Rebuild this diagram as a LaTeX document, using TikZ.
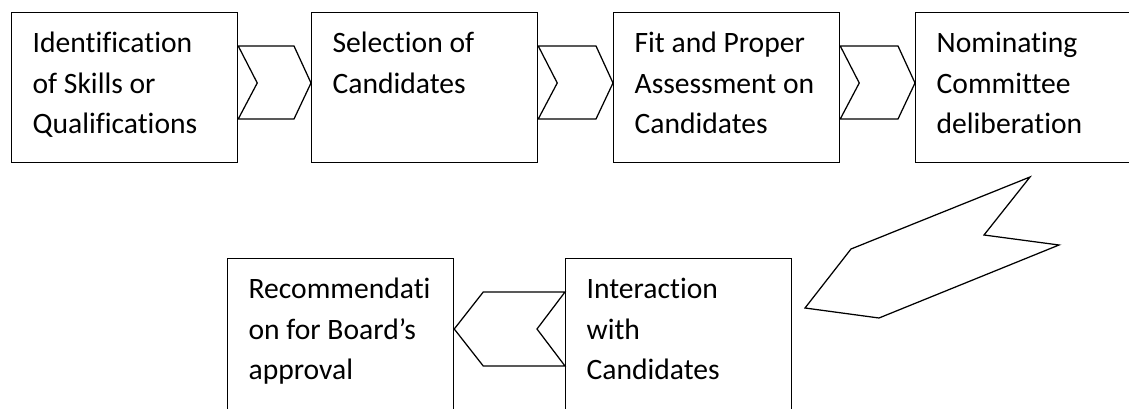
\documentclass[tikz,border=0pt]{standalone}
\usepackage{fontspec}
\setmainfont{Carlito}[Ligatures={NoCommon}]
\usetikzlibrary{calc}
\begin{document}
\begin{tikzpicture}[x=1pt,y=-1pt,line width=1.25pt,
  box/.style={draw,minimum width=226pt,minimum height=150pt,anchor=north west,inner sep=0pt},
  lowbox/.style={box,minimum height=200pt},
  lbl/.style={anchor=north west,align=left,inner sep=0pt,font=\fontsize{29.6}{40.5}\selectfont},
  chev/.style={draw,line join=miter}]
\clip (0,0) rectangle (1129,409);
\fill[white] (0,0) rectangle (1129,409);
% top row
\node[box] (b1) at (11,12) {};
\node[box] (b2) at (311,12) {};
\node[box] (b3) at (613,12) {};
\node[box] (b4) at (915,12) {};
% bottom row
\node[lowbox] (b5) at (227,258) {};
\node[lowbox] (b6) at (565,258) {};
% labels (first baseline 40pt below box top)
\newcommand{\fl}{\rule{0pt}{30pt}}
\node[lbl] (t1) at ($(b1.north west)+(21,10)$) {\fl Identification\\of Skills or\\Qualifications};
\node[lbl] (t2) at ($(b2.north west)+(21,10)$) {\fl Selection of\\Candidates};
\node[lbl] (t3) at ($(b3.north west)+(21,10)$) {\fl Fit and Proper\\Assessment on\\Candidates};
\node[lbl] (t4) at ($(b4.north west)+(21,10)$) {\fl Nominating\\Committee\\deliberation};
\node[lbl] (t5) at ($(b5.north west)+(21,10)$) {\fl Recommendati\\on for Board’s\\approval};
\node[lbl] (t6) at ($(b6.north west)+(21,10)$) {\fl Interaction\\with\\Candidates};
% chevrons top row
\foreach \a/\b in {b1/b2,b2/b3,b3/b4}
  \draw[chev] ($(\a.north east)+(0,34)$) -- ($(\b.north west)+(-17,34)$)
    -- ($(\b.north west)+(0,71)$) -- ($(\b.north west)+(-17,107)$)
    -- ($(\a.north east)+(0,107)$) -- ($(\a.north east)+(19,71)$) -- cycle;
% chevron bottom row (pointing left)
\draw[chev] ($(b6.north west)+(0,34)$) -- ($(b5.north east)+(29,34)$)
  -- ($(b5.north east)+(0,71)$) -- ($(b5.north east)+(29,108)$)
  -- ($(b6.north west)+(0,108)$) -- ($(b6.north west)+(-28,71)$) -- cycle;
% big diagonal arrow
\draw[chev] (1030,177) -- (984,235) -- (1059,245) -- (879,318) -- (805,308) -- (851,249) -- cycle;
\end{tikzpicture}
\end{document}
